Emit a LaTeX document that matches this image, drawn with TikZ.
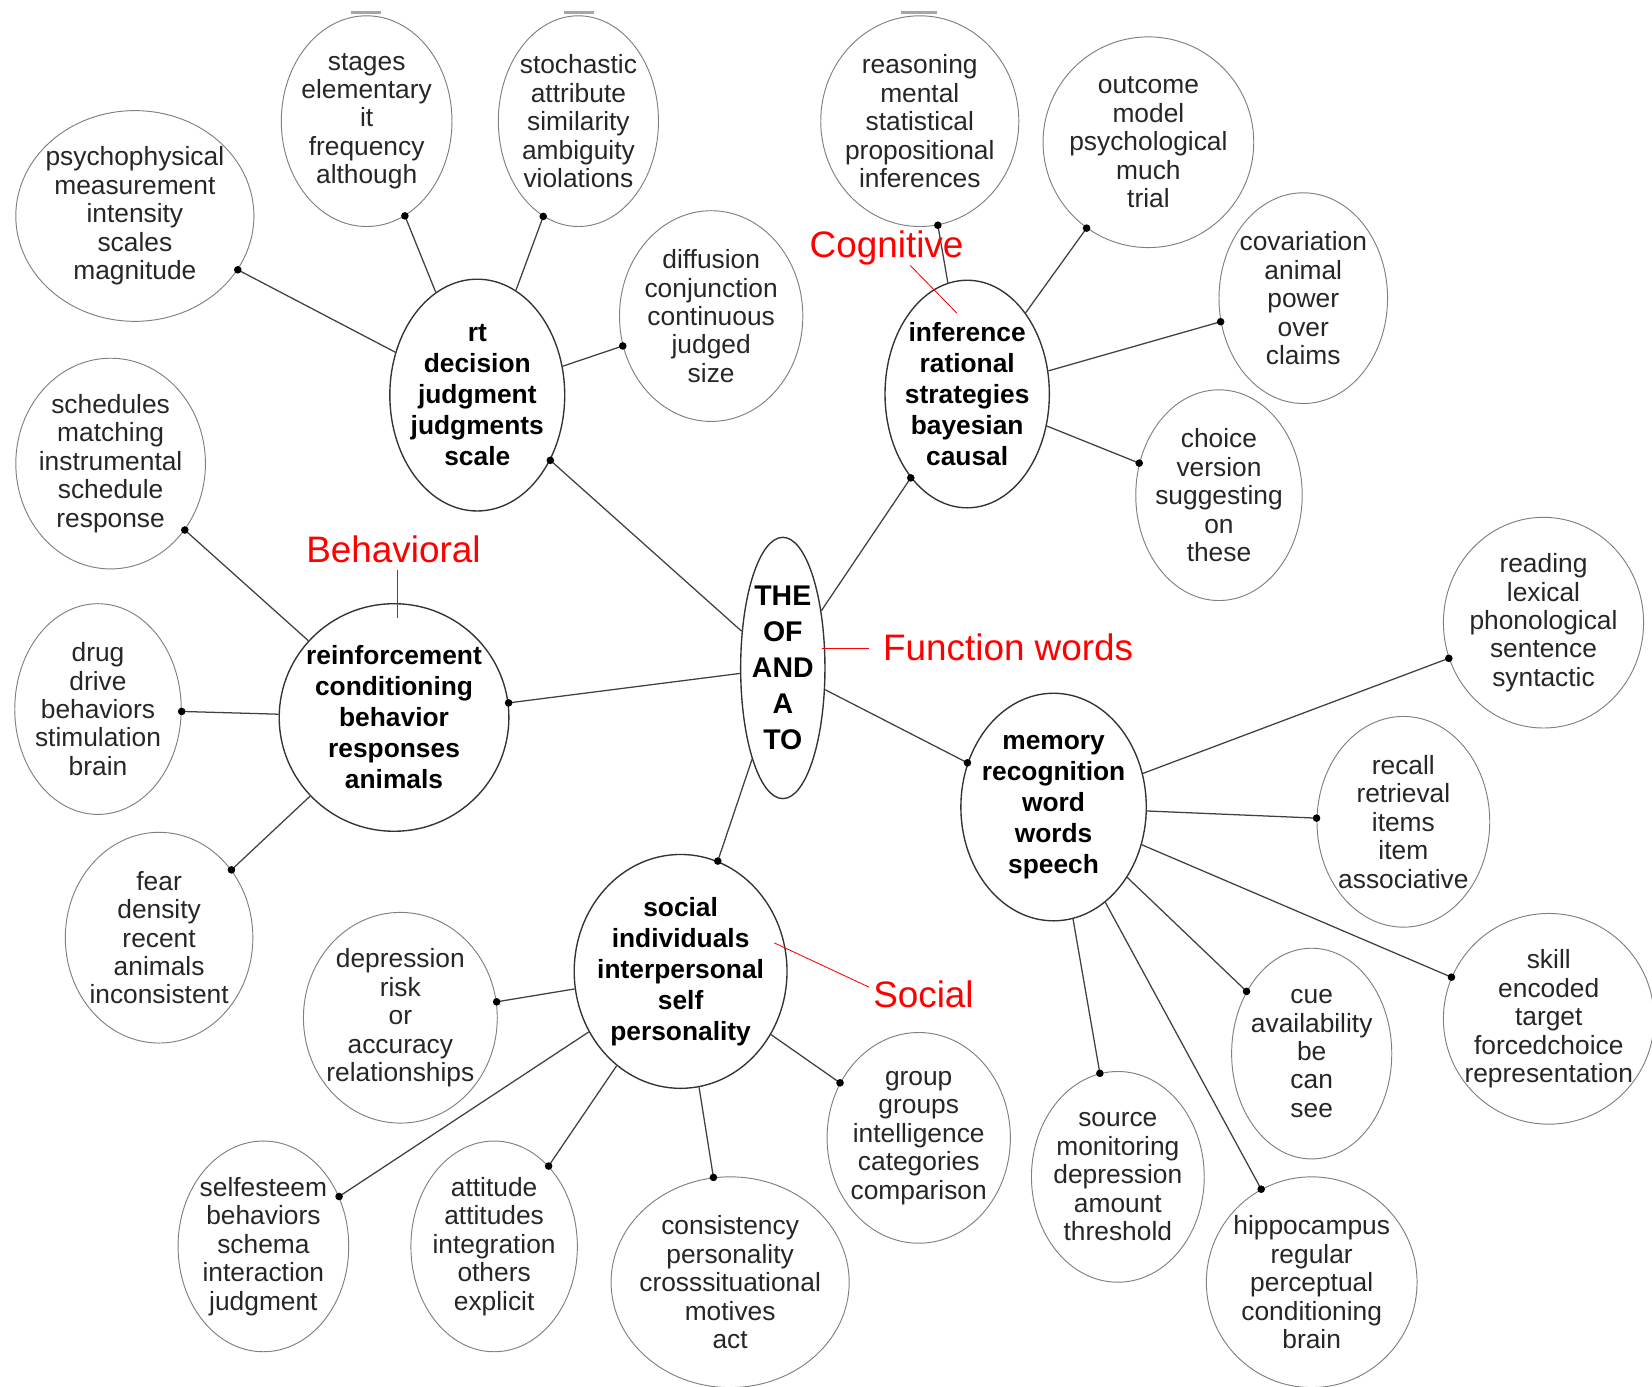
\documentclass[tikz,border=0pt]{standalone}
\usepackage{fontspec}
\setmainfont{Liberation Sans}
\usetikzlibrary{shapes.geometric}

% #1 style (leaf/hub/core), #2 name, #3 centre, #4 width, #5 height (pt), #6 text
\newcommand{\bubble}[6]{%
  \node[#1,minimum width=#4pt,minimum height=#5pt] (#2) at (#3) {};
  \node[#1text] (#2-t) at (#3) {#6};}

\begin{document}
\begin{tikzpicture}[x=0.5pt,y=-0.5pt,
  leaf/.style={ellipse,draw=black!50,line width=0.45pt,inner sep=0pt},
  hub/.style={ellipse,draw=black!80,line width=0.65pt,inner sep=0pt},
  core/.style={hub},
  leaftext/.style={align=center,inner sep=0pt,text=black!85,
    font=\fontsize{12.5}{13.5}\selectfont},
  hubtext/.style={align=center,inner sep=0pt,text=black,
    font=\fontsize{12.5}{14.7}\selectfont\bfseries},
  coretext/.style={align=center,inner sep=0pt,text=black,
    font=\fontsize{13.5}{17}\selectfont\bfseries},
  link/.style={draw=black!75,line width=0.6pt},
  dot/.style={circle,fill=black,inner sep=0pt,minimum size=3.6pt},
  topic/.style={text=red,inner sep=0pt,font=\fontsize{17.5}{20}\selectfont},
  pointer/.style={draw=red,line width=0.4pt}]

\useasboundingbox (0,0) rectangle (1568,1316);

% central cluster of function words
\bubble{core}{core}{743,634}{40}{124}{THE\\OF\\AND\\A\\TO}

% topic hubs
\bubble{hub}{rt}{453,375}{83}{110}{rt\\decision\\judgment\\judgments\\scale}
\bubble{hub}{infer}{918,374}{78}{108}{inference\\rational\\strategies\\bayesian\\causal}
\bubble{hub}{reinf}{374,681}{109}{108}{reinforcement\\conditioning\\behavior\\responses\\animals}
\bubble{hub}{mem}{1000,766}{88}{108}{memory\\recognition\\word\\words\\speech}
\bubble{hub}{soc}{646,922}{101}{111}{social\\individuals\\interpersonal\\self\\personality}

% leaves around "rt"
\bubble{leaf}{psy}{128,205}{113}{100}{psychophysical\\measurement\\intensity\\scales\\magnitude}
\bubble{leaf}{stages}{348,115}{81}{100}{stages\\elementary\\it\\frequency\\although}
\bubble{leaf}{stoch}{549,115}{76}{100}{stochastic\\attribute\\similarity\\ambiguity\\violations}
\bubble{leaf}{diff}{675,300}{87}{100}{diffusion\\conjunction\\continuous\\judged\\size}

% leaves around "inference"
\bubble{leaf}{reas}{873,115}{94}{100}{reasoning\\mental\\statistical\\propositional\\inferences}
\bubble{leaf}{outc}{1090,135}{100}{100}{outcome\\model\\psychological\\much\\trial}
\bubble{leaf}{cova}{1237,283}{80}{100}{covariation\\animal\\power\\over\\claims}
\bubble{leaf}{choice}{1157,470}{79}{100}{choice\\version\\suggesting\\on\\these}

% leaves around "memory"
\bubble{leaf}{read}{1465,591}{95}{100}{reading\\lexical\\phonological\\sentence\\syntactic}
\bubble{leaf}{recall}{1332,780}{82}{100}{recall\\retrieval\\items\\item\\associative}
\bubble{leaf}{skill}{1470,967}{100}{100}{skill\\encoded\\target\\forcedchoice\\representation}
\bubble{leaf}{cue}{1245,1000}{76}{100}{cue\\availability\\be\\can\\see}
\bubble{leaf}{source}{1061,1117}{82}{100}{source\\monitoring\\depression\\amount\\threshold}
\bubble{leaf}{hippo}{1245,1217}{100}{100}{hippocampus\\regular\\perceptual\\conditioning\\brain}

% leaves around "social"
\bubble{leaf}{depr}{380,966}{92}{100}{depression\\risk\\or\\accuracy\\relationships}
\bubble{leaf}{group}{872,1080}{87}{100}{group\\groups\\intelligence\\categories\\comparison}
\bubble{leaf}{selfe}{250,1183}{81}{100}{selfesteem\\behaviors\\schema\\interaction\\judgment}
\bubble{leaf}{attit}{469,1183}{79}{100}{attitude\\attitudes\\integration\\others\\explicit}
\bubble{leaf}{consi}{693,1217}{113}{100}{consistency\\personality\\crosssituational\\motives\\act}

% leaves around "reinforcement"
\bubble{leaf}{sched}{105,440}{90}{100}{schedules\\matching\\instrumental\\schedule\\response}
\bubble{leaf}{drug}{93,673}{79}{100}{drug\\drive\\behaviors\\stimulation\\brain}
\bubble{leaf}{fear}{151,890}{89}{100}{fear\\density\\recent\\animals\\inconsistent}

% connectors, each ending in a dot on the outer bubble
\foreach \a/\b in {core/rt,core/infer,core/reinf,core/mem,core/soc,
    rt/psy,rt/stages,rt/stoch,rt/diff,
    infer/reas,infer/outc,infer/cova,infer/choice,
    mem/read,mem/recall,mem/skill,mem/cue,mem/source,mem/hippo,
    soc/depr,soc/group,soc/selfe,soc/attit,soc/consi,
    reinf/sched,reinf/drug,reinf/fear}
  \draw[link] (\a) -- (\b) node[dot,pos=1] (d-\a-\b) {};

% small grey marks on the top rim
\draw[black!35,line width=1.4pt] (333,12) -- (362,12);
\draw[black!35,line width=1.4pt] (535,12) -- (564,12);
\draw[black!35,line width=1.4pt] (855,12) -- (889,12);

% topic labels with their red pointers
\node[topic,anchor=base] (lblCog) at (841.5,244) {Cognitive};
\coordinate (cogA) at (864,252);
\coordinate (cogB) at (908,297);
\draw[pointer] (cogA) -- (cogB);

\node[topic,anchor=base] (lblBeh) at (373.5,534) {Behavioral};
\coordinate (behA) at (377,541);
\coordinate (behB) at (377,587);
\draw[pointer] (behA) -- (behB);

\node[topic,anchor=base west] (lblFun) at (837.8,627) {Function words};
\coordinate (funA) at (780,615);
\coordinate (funB) at (825,615);
\draw[pointer] (funA) -- (funB);

\node[topic,anchor=base] (lblSoc) at (876.5,956) {Social};
\coordinate (socA) at (735,895);
\coordinate (socB) at (825,937);
\draw[pointer] (socA) -- (socB);

\end{tikzpicture}
\end{document}
